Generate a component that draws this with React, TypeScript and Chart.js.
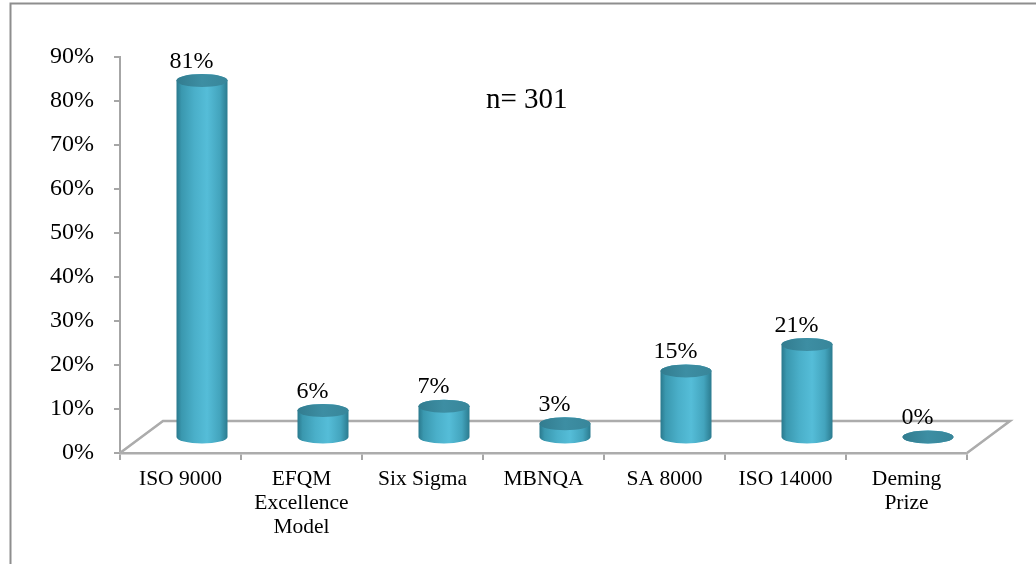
import { useEffect, useRef } from 'react';
import { Chart, registerables } from 'chart.js';

Chart.register(...registerables);

// Quality standards / awards adopted, share of respondents (%)
const categories: (string | string[])[] = [
  'ISO 9000',
  ['EFQM', 'Excellence', 'Model'],
  'Six Sigma',
  'MBNQA',
  'SA 8000',
  'ISO 14000',
  ['Deming', 'Prize'],
];
const adoptionShare = [81, 6, 7, 3, 15, 21, 0];
const yTickValues = [0, 10, 20, 30, 40, 50, 60, 70, 80, 90];
const sampleNote = 'n= 301';

const SERIF = '"Liberation Serif", "Times New Roman", serif';
const DEPTH_X = 43;
const DEPTH_Y = 32;
const RX = 25.5;
const RY = 6.5;

function drawCylinder(ctx: CanvasRenderingContext2D, cx: number, yb: number, yt: number) {
  const body = ctx.createLinearGradient(cx - RX, 0, cx + RX, 0);
  body.addColorStop(0, '#2a798d');
  body.addColorStop(0.1, '#3a98af');
  body.addColorStop(0.35, '#4aafc9');
  body.addColorStop(0.6, '#55bdd8');
  body.addColorStop(0.85, '#43a4bd');
  body.addColorStop(1, '#2b7b8f');
  ctx.beginPath();
  ctx.moveTo(cx - RX, yt);
  ctx.lineTo(cx - RX, yb);
  ctx.ellipse(cx, yb, RX, RY, 0, Math.PI, 0, true);
  ctx.lineTo(cx + RX, yt);
  ctx.ellipse(cx, yt, RX, RY, 0, 0, Math.PI, true);
  ctx.closePath();
  ctx.fillStyle = body;
  ctx.fill();

  const top = ctx.createLinearGradient(cx - RX, yt, cx + RX, yt);
  top.addColorStop(0, '#327c8f');
  top.addColorStop(0.5, '#3d8ea3');
  top.addColorStop(1, '#38869a');
  ctx.beginPath();
  ctx.ellipse(cx, yt, RX, RY, 0, 0, Math.PI * 2);
  ctx.fillStyle = top;
  ctx.fill();
}

const cylinderPlugin = {
  id: 'cylinderPlugin',
  beforeDatasetsDraw(chart: any) {
    const { ctx, chartArea, scales } = chart;
    const x0 = chartArea.left;
    const x1 = chartArea.right;
    const y0 = scales.y.getPixelForValue(0);
    ctx.save();
    // floor outline
    ctx.beginPath();
    ctx.moveTo(x0, y0);
    ctx.lineTo(x0 + DEPTH_X, y0 - DEPTH_Y);
    ctx.lineTo(x1 + DEPTH_X, y0 - DEPTH_Y);
    ctx.lineTo(x1, y0);
    ctx.strokeStyle = '#dcdcdc';
    ctx.lineWidth = 2;
    ctx.translate(0, 1.5);
    ctx.stroke();
    ctx.translate(0, -1.5);
    ctx.strokeStyle = '#acacac';
    ctx.lineWidth = 2.5;
    ctx.stroke();
    ctx.restore();
  },
  afterDatasetsDraw(chart: any) {
    const { ctx, scales } = chart;
    const meta = chart.getDatasetMeta(0);
    const base = scales.y.getPixelForValue(0) - DEPTH_Y / 2;
    ctx.save();
    meta.data.forEach((bar: any, i: number) => {
      const v = adoptionShare[i];
      const cx = bar.x + DEPTH_X / 2;
      const yt = scales.y.getPixelForValue(v) - DEPTH_Y / 2;
      drawCylinder(ctx, cx, base, yt);
      ctx.fillStyle = '#000';
      ctx.font = `24px ${SERIF}`;
      ctx.textAlign = 'center';
      ctx.textBaseline = 'middle';
      ctx.fillText(`${v}%`, bar.x + 11, yt - 19);
    });
    ctx.restore();
  },
  afterDraw(chart: any) {
    const { ctx } = chart;
    ctx.save();
    ctx.fillStyle = '#000';
    ctx.font = `29px ${SERIF}`;
    ctx.textAlign = 'left';
    ctx.textBaseline = 'alphabetic';
    ctx.fillText(sampleNote, 486, 108);
    // outer frame
    ctx.beginPath();
    ctx.moveTo(10.5, 564);
    ctx.lineTo(10.5, 3.5);
    ctx.lineTo(1036, 3.5);
    ctx.strokeStyle = '#8e8e8e';
    ctx.lineWidth = 2;
    ctx.stroke();
    ctx.restore();
  },
};

export default function App() {
  const canvasRef = useRef<HTMLCanvasElement | null>(null);

  useEffect(() => {
    const canvas = canvasRef.current;
    if (!canvas) return;
    const chart = new Chart(canvas, {
      type: 'bar',
      data: {
        labels: categories as any,
        datasets: [
          {
            data: adoptionShare,
            backgroundColor: 'rgba(0,0,0,0)',
            borderWidth: 0,
          },
        ],
      },
      options: {
        responsive: false,
        animation: false,
        events: [],
        layout: { padding: { left: 0, right: 69, top: 57, bottom: 0 } },
        plugins: {
          legend: { display: false },
          tooltip: { enabled: false },
          title: { display: false },
        },
        scales: {
          x: {
            offset: true,
            grid: {
              offset: true,
              drawOnChartArea: false,
              drawTicks: true,
              tickLength: 7,
              color: '#a6a6a6',
              lineWidth: 2,
            },
            border: { display: true, color: '#acacac', width: 2.5 },
            ticks: {
              autoSkip: false,
              maxRotation: 0,
              minRotation: 0,
              padding: 8,
              color: '#000',
              font: { family: SERIF, size: 21.5, lineHeight: 1.1 },
            },
            afterFit(scale: any) {
              scale.height = 111;
            },
          },
          y: {
            min: 0,
            max: 90,
            afterBuildTicks(scale: any) {
              scale.ticks = yTickValues.map((value) => ({ value }));
            },
            grid: {
              drawOnChartArea: false,
              drawTicks: true,
              tickLength: 6,
              color: '#a6a6a6',
              lineWidth: 2,
            },
            border: { display: true, color: '#a6a6a6', width: 2 },
            ticks: {
              padding: 20,
              color: '#000',
              font: { family: SERIF, size: 24 },
              callback: (v: any) => `${v}%`,
            },
            afterFit(scale: any) {
              scale.width = 120;
            },
          },
        },
      },
      plugins: [cylinderPlugin],
    });
    return () => chart.destroy();
  }, []);

  return (
    <div style={{ position: 'absolute', left: 0, top: 0, width: 1036, height: 564, background: '#fff' }}>
      <canvas ref={canvasRef} width={1036} height={564} style={{ display: 'block' }} />
    </div>
  );
}
